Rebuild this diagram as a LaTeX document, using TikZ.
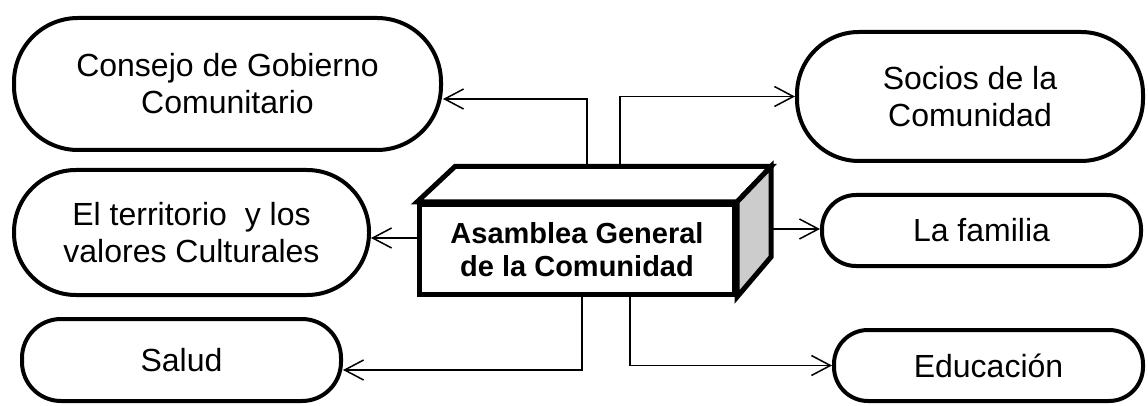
\documentclass[tikz,border=0pt]{standalone}
\usepackage{fontspec}
\setmainfont{Liberation Sans}
\usetikzlibrary{arrows.meta}
\begin{document}
\begin{tikzpicture}[x=1pt,y=-1pt,
  pill/.style={draw,line width=4pt,rounded corners=#1,align=center,inner sep=0pt,
    font=\fontsize{32}{37}\selectfont},
  arr/.style={line width=1.5pt,-{Straight Barb[length=19pt,width=20pt,line width=1.5pt]}}]
\useasboundingbox (0,0) rectangle (1148,406);
% stadium nodes
\node[pill=64pt,minimum width=427pt,minimum height=132pt] (cons) at (227.5,84) {Consejo de Gobierno\\Comunitario};
\node[pill=62pt,minimum width=355pt,minimum height=125pt] (terr) at (191.5,232.5) {El territorio~ y los\\valores Culturales};
\node[pill=39pt,minimum width=319pt,minimum height=82pt] (sal) at (181.5,360) {Salud};
\node[pill=62pt,minimum width=346pt,minimum height=129pt] (soc) at (970,96.5) {Socios de la\\Comunidad};
\node[pill=34pt,minimum width=319pt,minimum height=71pt] (fam) at (981.5,230.5) {La familia};
\node[pill=34pt,minimum width=309pt,minimum height=71pt] (edu) at (988.5,365.5) {Educación};
% central box
\node[draw,line width=5pt,minimum width=315pt,minimum height=90pt,inner sep=0pt,align=center,
  font=\fontsize{29}{33}\bfseries\selectfont] (asm) at (577,249.5) {Asamblea General\\de la Comunidad};
\coordinate (bt1) at (455,166.5);
\coordinate (bt2) at (771,166.5);
\coordinate (bt3) at (771,257);
\draw[line width=5pt,line join=miter,fill=white] (asm.north west) -- (bt1) -- (bt2) -- (asm.north east) -- cycle;
\draw[line width=5pt,line join=miter,fill=black!20] (asm.north east) -- (bt2) -- (bt3) -- (asm.south east) -- cycle;
% connectors
\coordinate (tL) at (587,166.5);
\coordinate (tR) at (620,166.5);
\coordinate (tLk) at (587,99);
\coordinate (mL) at (417,238);
\coordinate (mR) at (771,229);
\coordinate (bL) at (582,297);
\coordinate (bLk) at (582,370);
\coordinate (bR) at (630,297);
\draw[arr] (tL) -- (tLk) -- (tLk -| cons.east);
\draw[arr] (tR) |- (soc.west);
\draw[arr] (mL) -- (mL -| terr.east);
\draw[arr] (mR) -- (mR -| fam.west);
\draw[arr] (bL) -- (bLk) -- (bLk -| sal.east);
\draw[arr] (bR) |- (edu.west);
\end{tikzpicture}
\end{document}
